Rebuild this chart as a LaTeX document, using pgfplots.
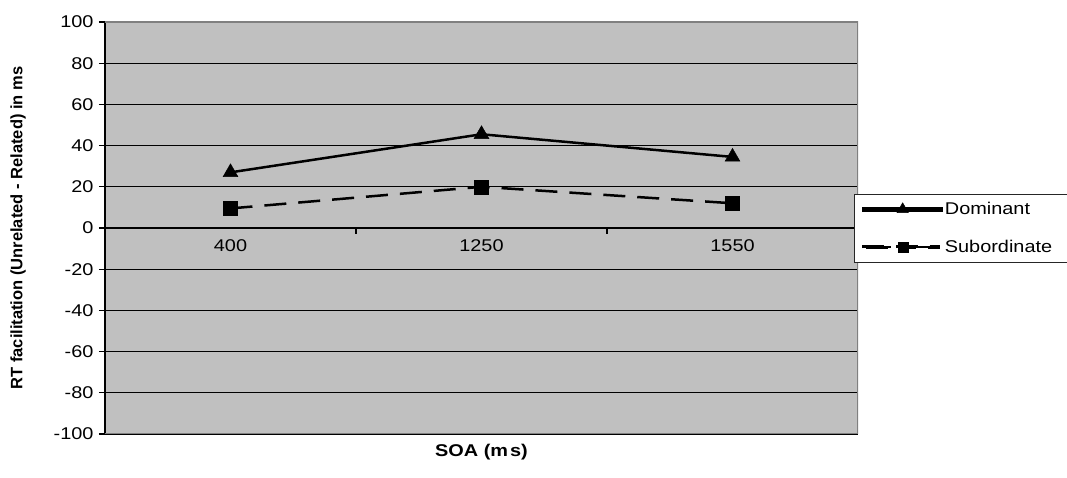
\documentclass[border=0pt]{standalone}
\usepackage{fontspec}
\setmainfont{Liberation Sans}[FakeStretch=1.17]
\newfontfamily\plainsans{Liberation Sans}
\usepackage{pgfplots}
\pgfplotsset{compat=1.18}
\definecolor{plotbg}{HTML}{C0C0C0}
\definecolor{framegray}{HTML}{808080}

\begin{document}
\begin{tikzpicture}
\useasboundingbox (0,0) rectangle (1067pt,478pt);
\begin{axis}[
    at={(105pt,44pt)}, anchor=south west,
    scale only axis, width=753pt, height=412pt,
    xmin=0, xmax=3, ymin=-100, ymax=100,
    axis x line*=middle, axis y line*=left,
    hide obscured x ticks=false, hide obscured y ticks=false,
    axis background/.style={fill=plotbg},
    x axis line style={line width=2.5pt},
    y axis line style={line width=1.5pt},
    xtick={1,2}, xticklabels={},
    extra x ticks={0.5,1.5,2.5},
    extra x tick labels={400,1250,1550},
    extra x tick style={major tick length=0pt, tick label style={yshift=-8pt}},
    ytick={-100,-80,...,100},
    yticklabels={-100,-80,-60,-40,-20,0,20,40,60,80,100},
    yticklabel style={xshift=-2pt},
    tick align=outside,
    major tick length=6pt,
    tick style={black, line width=1.2pt},
    tick label style={font=\fontsize{17}{20}\selectfont},
    ymajorgrids, grid style={black, line width=0.8pt},
    xlabel={SOA (m\kern2pt s)},
    xlabel style={at={(axis description cs:0.5,-0.044)}, anchor=center,
        font=\fontsize{17}{20}\selectfont\bfseries},
    ylabel={RT facilitation (Unrelated - Related) in ms},
    ylabel style={at={(axis description cs:-0.1155,0.5)}, anchor=center,
        font=\fontsize{16.5}{20}\selectfont\plainsans\bfseries},
    legend style={at={(axis description cs:0.9947,0.5825)}, anchor=north west,
        draw=black!85, line width=0.8pt, fill=white,
        font=\fontsize{17}{20}\selectfont,
        row sep=20pt, inner xsep=8pt, inner ysep=6pt},
    legend cell align=left,
]
\addplot[black, line width=2.5pt, mark=triangle*,
    mark options={solid, line width=0.5pt}, mark size=8.5pt,
    legend image code/.code={
        \fill[black] (0pt,-1pt) rectangle (78pt,1pt);
        \fill[black, mark=triangle*, mark size=6.5pt]
            plot coordinates {(39pt,0pt)};}]
    coordinates {(0.5,27) (1.5,45.5) (2.5,34.5)};
\addlegendentry{Dominant}
\addplot[black, line width=2.5pt, dash pattern=on 22pt off 12pt,
    mark=square*, mark options={solid, line width=0.5pt}, mark size=7pt,
    legend image code/.code={
        \fill[black] (0pt,-1pt) rectangle (27pt,1pt);
        \fill[black] (34pt,-1pt) rectangle (75pt,1pt);
        \fill[black, mark=square*, mark size=5pt]
            plot coordinates {(40pt,0pt)};}]
    coordinates {(0.5,9.5) (1.5,20) (2.5,12)};
\addlegendentry{\makebox[125pt][l]{Subordinate}}
\draw[framegray, line width=1.5pt] (rel axis cs:0,0) -- (rel axis cs:1,0)
    -- (rel axis cs:1,1) -- (rel axis cs:0,1);
\end{axis}
\end{tikzpicture}
\end{document}
